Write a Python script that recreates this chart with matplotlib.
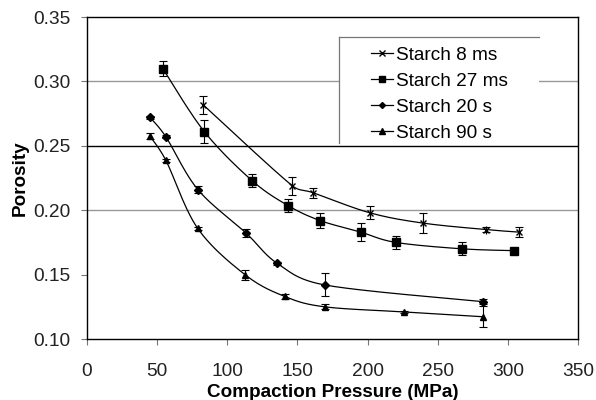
import numpy as np
import matplotlib
matplotlib.use("Agg")
import matplotlib.pyplot as plt
from matplotlib.patches import Rectangle

plt.rcParams['font.family'] = ['Liberation Sans', 'DejaVu Sans']

# data
p_8ms = [82.6, 146.3, 161.0, 201.5, 239.3, 284.0, 307.6]
e_8ms = [0.282, 0.219, 0.2136, 0.198, 0.190, 0.185, 0.183]
s_8ms = [0.007, 0.007, 0.004, 0.005, 0.008, 0.002, 0.004]

p_27ms = [54.0, 83.6, 117.6, 143.4, 166.0, 195.0, 220.0, 267.4, 304.5]
e_27ms = [0.310, 0.261, 0.223, 0.2035, 0.192, 0.183, 0.175, 0.170, 0.1686]
s_27ms = [0.006, 0.009, 0.005, 0.005, 0.006, 0.007, 0.005, 0.005, 0.002]

p_20s = [45.0, 56.2, 79.0, 113.1, 135.5, 169.3, 281.9]
e_20s = [0.272, 0.257, 0.216, 0.1825, 0.1588, 0.142, 0.129]
s_20s = [0.001, 0.001, 0.003, 0.003, 0.001, 0.009, 0.002]

p_90s = [44.8, 56.2, 78.8, 112.9, 141.0, 169.3, 226.0, 281.9]
e_90s = [0.2576, 0.2387, 0.186, 0.1497, 0.133, 0.125, 0.121, 0.1173]
s_90s = [0.002, 0.001, 0.001, 0.004, 0.002, 0.002, 0.001, 0.008]

labels = ['Starch 8 ms', 'Starch 27 ms', 'Starch 20 s', 'Starch 90 s']


# Excel-like smoothed line (Bezier through the points)
def smooth(x, y, xr=350., yr=0.25, n=25):
    x = np.asarray(x) / xr
    y = np.asarray(y) / yr
    P = np.column_stack([x, y])
    P = np.vstack([P[0], P, P[-1]])
    out = []
    t = np.linspace(0, 1, n)[:, None]
    for i in range(1, len(P) - 2):
        p0, p1, p2, p3 = P[i - 1], P[i], P[i + 1], P[i + 2]
        L = np.hypot(*(p2 - p1))
        d1 = (p2 - p0) / 6.
        d2 = (p3 - p1) / 6.
        # keep control arms short so close points do not overshoot
        if np.hypot(*d1) > L / 2.:
            d1 = d1 / np.hypot(*d1) * L / 2.
        if np.hypot(*d2) > L / 2.:
            d2 = d2 / np.hypot(*d2) * L / 2.
        c1 = p1 + d1
        c2 = p2 - d2
        seg = ((1 - t)**3 * p1 + 3 * (1 - t)**2 * t * c1 +
               3 * (1 - t) * t**2 * c2 + t**3 * p2)
        out.append(seg)
    out = np.vstack(out)
    return out[:, 0] * xr, out[:, 1] * yr


fig = plt.figure(figsize=(5.96, 4.0), dpi=100)
ax = fig.add_axes([0.146, 0.1525, 0.824, 0.805])

ax.set_xlim(0, 350)
ax.set_ylim(0.10, 0.35)
ax.set_xticks(np.arange(0, 351, 50))
ax.set_yticks(np.arange(0.10, 0.351, 0.05))
ax.set_yticklabels(['%.2f' % v for v in np.arange(0.10, 0.351, 0.05)])

ax.axhline(0.20, color='#999999', lw=1.0, zorder=1)
ax.axhline(0.30, color='#999999', lw=1.0, zorder=1)
ax.axhline(0.25, color='black', lw=1.0, zorder=1)

for s in ax.spines.values():
    s.set_linewidth(1.0)
    s.set_color('black')
ax.tick_params(axis='both', direction='out', length=4, width=0.8,
               color='#777777', labelsize=13.8, colors='#222222')
ax.tick_params(axis='x', pad=13)
ax.tick_params(axis='y', pad=8)

series = [
    (p_8ms, e_8ms, s_8ms, 'x', 5, ),
    (p_27ms, e_27ms, s_27ms, 's', 5.5),
    (p_20s, e_20s, s_20s, 'D', 3.8),
    (p_90s, e_90s, s_90s, '^', 5),
]

handles = []
for (x, y, err, mk, ms), lab in zip(series, labels):
    xs, ys = smooth(x, y)
    ax.plot(xs, ys, color='black', lw=0.9, zorder=3)
    ax.errorbar(x, y, yerr=err, fmt='none', ecolor='black', elinewidth=0.8,
                capsize=3, capthick=0.8, zorder=4)
    ax.plot(x, y, linestyle='none', marker=mk, ms=ms, color='black',
            mew=1.0, zorder=5)
    if mk == 'x':
        ax.plot(x, y, linestyle='none', marker='|', ms=ms + 1, color='black',
                mew=0.9, zorder=5)
    handles.append(plt.Line2D([], [], color='black', lw=0.9, marker=mk,
                              ms=ms * 0.8, mew=1.0))

# legend box: only top and left edges visible in the original
box = Rectangle((0.513, 0.609), 0.408, 0.329, transform=ax.transAxes,
                facecolor='white', edgecolor='none', zorder=6)
ax.add_patch(box)
ax.plot([0.513, 0.921], [0.938, 0.938], transform=ax.transAxes,
        color='#777777', lw=0.9, zorder=7)
ax.plot([0.513, 0.513], [0.609, 0.938], transform=ax.transAxes,
        color='#777777', lw=0.9, zorder=7)

leg = ax.legend(handles, labels, loc='upper left',
                bbox_to_anchor=(0.57, 0.92), frameon=False, fontsize=13.7,
                handlelength=1.15, handletextpad=0.2, labelspacing=0.45,
                borderaxespad=0, borderpad=0.2)
leg.set_zorder(8)

ax.set_xlabel('Compaction Pressure (MPa)', fontsize=13.6, fontweight='bold',
              labelpad=3)
ax.set_ylabel('Porosity', fontsize=13.6, fontweight='bold', labelpad=3)

fig.savefig('out.png', dpi=100)
